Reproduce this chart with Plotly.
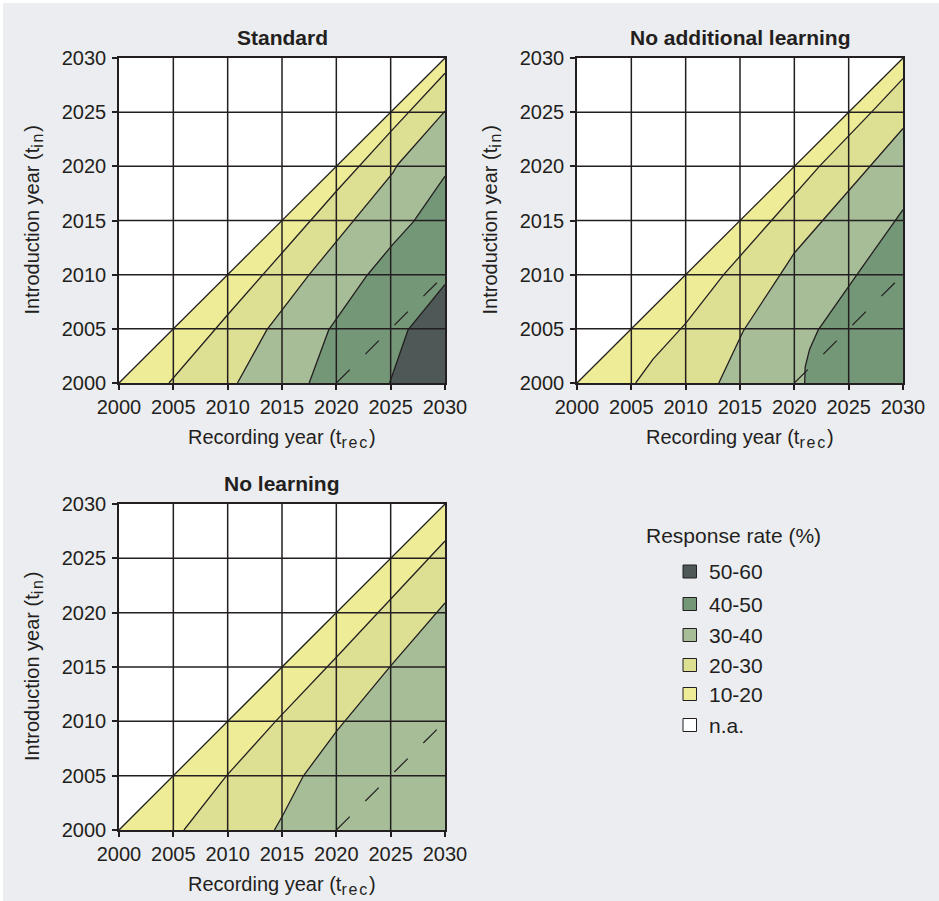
import plotly.graph_objects as go

# ---------------------------------------------------------------------------
# Data: contour boundaries between response-rate bands (x = recording year,
# y = introduction year). Each boundary runs from the bottom edge to the
# right edge of the panel.
# ---------------------------------------------------------------------------
TICKS = [2000, 2005, 2010, 2015, 2020, 2025, 2030]
YEAR_MIN, YEAR_MAX = 2000, 2030

BANDS = ["50-60", "40-50", "30-40", "20-30", "10-20", "n.a."]
BAND_COLORS = {
    "50-60": "#4d5857",
    "40-50": "#749777",
    "30-40": "#a6bd97",
    "20-30": "#dddf92",
    "10-20": "#eeec96",
    "n.a.": "#ffffff",
}

# Upper limit of the data: introduction year = recording year
DIAG_X = [2000, 2030]
DIAG_Y = [2000, 2030]

# Reference line: introduction year = recording year - 20
REF_X = [2020, 2030]
REF_Y = [2000, 2010]

# Standard
STD_20_X = [2004.6, 2010.0, 2015.0, 2020.0, 2025.0, 2030.0]
STD_20_Y = [2000.0, 2006.3, 2012.0, 2017.7, 2023.2, 2028.6]
STD_30_X = [2010.9, 2013.6, 2017.5, 2025.2, 2025.6, 2030.0]
STD_30_Y = [2000.0, 2004.9, 2010.0, 2019.4, 2020.1, 2025.1]
STD_40_X = [2017.5, 2019.3, 2022.8, 2025.2, 2027.1, 2030.0]
STD_40_Y = [2000.0, 2004.9, 2009.9, 2012.8, 2014.9, 2019.1]
STD_50_X = [2024.9, 2026.6, 2030.0]
STD_50_Y = [2000.0, 2004.9, 2009.1]

# No additional learning
NAL_20_X = [2005.4, 2007.0, 2010.0, 2013.5, 2017.9, 2022.3, 2027.1, 2030.0]
NAL_20_Y = [2000.0, 2002.2, 2005.5, 2010.0, 2015.0, 2020.0, 2025.0, 2028.1]
NAL_30_X = [2013.05, 2015.3, 2018.7, 2020.0, 2030.0]
NAL_30_Y = [2000.0, 2004.8, 2010.0, 2012.0, 2023.5]
NAL_40_X = [2020.95, 2021.0, 2021.4, 2022.2, 2025.65, 2030.0]
NAL_40_Y = [2000.0, 2001.5, 2003.1, 2004.9, 2009.85, 2016.0]

# No learning
NL_20_X = [2005.98, 2009.9, 2014.4, 2020.0, 2030.0]
NL_20_Y = [2000.0, 2005.0, 2010.0, 2015.9, 2026.6]
NL_30_X = [2014.3, 2015.1, 2016.96, 2020.1, 2025.0, 2030.0]
NL_30_Y = [2000.0, 2001.4, 2004.97, 2009.2, 2015.1, 2020.9]

PANEL_TITLES = ["Standard", "No additional learning", "No learning"]

# ---------------------------------------------------------------------------
# Styling
# ---------------------------------------------------------------------------
W, H = 939, 901
BG = "#ecedf0"
INK = "#231f20"
FONT = "Liberation Sans, Arial, Helvetica, sans-serif"
LABEL_SIZE = 20
SUB_STYLE = "font-size:16px;letter-spacing:1.8px"

X_TITLE = 'Recording year (t<sub><span style="%s">rec</span></sub>)' % SUB_STYLE
Y_TITLE = 'Introduction year (t<sub><span style="%s">in</span></sub>)' % SUB_STYLE


def fx(px):
    return px / W


def fy(px):
    return 1 - px / H


corner = ([YEAR_MAX], [YEAR_MIN])
panels = [
    dict(
        title=PANEL_TITLES[0],
        chains=[(DIAG_X, DIAG_Y), (STD_20_X, STD_20_Y), (STD_30_X, STD_30_Y),
                (STD_40_X, STD_40_Y), (STD_50_X, STD_50_Y), corner],
        fills=["10-20", "20-30", "30-40", "40-50", "50-60"],
        box=(119, 445, 58, 383),
    ),
    dict(
        title=PANEL_TITLES[1],
        chains=[(DIAG_X, DIAG_Y), (NAL_20_X, NAL_20_Y), (NAL_30_X, NAL_30_Y),
                (NAL_40_X, NAL_40_Y), corner],
        fills=["10-20", "20-30", "30-40", "40-50"],
        box=(577, 903, 58, 383),
    ),
    dict(
        title=PANEL_TITLES[2],
        chains=[(DIAG_X, DIAG_Y), (NL_20_X, NL_20_Y), (NL_30_X, NL_30_Y), corner],
        fills=["10-20", "20-30", "30-40"],
        box=(119, 445, 504, 830),
    ),
]

fig = go.Figure()
shapes = []
annotations = []
layout_axes = {}

for i, p in enumerate(panels):
    sfx = "" if i == 0 else str(i + 1)
    xref, yref = "x" + sfx, "y" + sfx
    chains = p["chains"]

    # filled bands between consecutive boundaries
    for k, band in enumerate(p["fills"]):
        ux, uy = chains[k]
        lx, ly = chains[k + 1]
        xs = list(ux) + list(reversed(lx)) + [ux[0]]
        ys = list(uy) + list(reversed(ly)) + [uy[0]]
        fig.add_trace(go.Scatter(
            x=xs, y=ys, xaxis=xref, yaxis=yref, mode="lines",
            line=dict(width=0), fill="toself", fillcolor=BAND_COLORS[band],
            hoverinfo="skip", showlegend=False,
        ))

    # boundary lines
    for bx, by in chains[:-1]:
        fig.add_trace(go.Scatter(
            x=bx, y=by, xaxis=xref, yaxis=yref, mode="lines",
            line=dict(color=INK, width=1.3), hoverinfo="skip", showlegend=False,
        ))

    # dashed reference line
    fig.add_trace(go.Scatter(
        x=REF_X, y=REF_Y, xaxis=xref, yaxis=yref, mode="lines",
        line=dict(color=INK, width=1.2, dash="19px,22px"),
        hoverinfo="skip", showlegend=False,
    ))

    # grid drawn over the bands
    for t in TICKS[1:-1]:
        shapes.append(dict(type="line", xref=xref, yref=yref, layer="above",
                           x0=t, x1=t, y0=YEAR_MIN, y1=YEAR_MAX,
                           line=dict(color=INK, width=1.5)))
        shapes.append(dict(type="line", xref=xref, yref=yref, layer="above",
                           x0=YEAR_MIN, x1=YEAR_MAX, y0=t, y1=t,
                           line=dict(color=INK, width=1.5)))

    x0, x1, y0, y1 = p["box"]
    common = dict(
        range=[YEAR_MIN, YEAR_MAX], tickvals=TICKS, ticks="outside",
        ticklen=5, tickwidth=1.5, tickcolor=INK, showgrid=False, zeroline=False,
        showline=True, mirror=True, linecolor=INK, linewidth=1.5,
        tickfont=dict(family=FONT, size=LABEL_SIZE, color=INK), fixedrange=True,
        automargin=False,
    )
    layout_axes["xaxis" + sfx] = dict(common, domain=[fx(x0), fx(x1)], anchor=yref)
    layout_axes["yaxis" + sfx] = dict(common, domain=[fy(y1), fy(y0)], anchor=xref,
                                      ticklabelstandoff=2)

    cx = (x0 + x1) / 2
    cy = (y0 + y1) / 2
    annotations.append(dict(
        text="<b>%s</b>" % p["title"], xref="paper", yref="paper",
        x=fx(cx), y=fy(y0 - 21), xanchor="center", yanchor="middle",
        showarrow=False, font=dict(family=FONT, size=21, color=INK),
    ))
    annotations.append(dict(
        text=X_TITLE, xref="paper", yref="paper",
        x=fx(cx), y=fy(y1 + 55), xanchor="center", yanchor="middle",
        showarrow=False, font=dict(family=FONT, size=LABEL_SIZE, color=INK),
    ))
    annotations.append(dict(
        text=Y_TITLE, xref="paper", yref="paper",
        x=fx(x0 - 86), y=fy(cy), xanchor="center", yanchor="middle",
        textangle=-90, showarrow=False,
        font=dict(family=FONT, size=LABEL_SIZE, color=INK),
    ))

# legend
annotations.append(dict(
    text="Response rate (%)", xref="paper", yref="paper", x=fx(733.5), y=fy(535),
    xanchor="center", yanchor="middle", showarrow=False,
    font=dict(family=FONT, size=21, color=INK),
))
row_y = [571.5, 604, 635, 665, 694, 725]
for band, ry in zip(BANDS, row_y):
    shapes.append(dict(type="rect", xref="paper", yref="paper",
                       x0=fx(683), x1=fx(696.5), y0=fy(ry + 6.5), y1=fy(ry - 6.5),
                       fillcolor=BAND_COLORS[band], line=dict(color=INK, width=1)))
    annotations.append(dict(
        text=band, xref="paper", yref="paper", x=fx(707), y=fy(ry),
        xanchor="left", yanchor="middle", showarrow=False,
        font=dict(family=FONT, size=21, color=INK),
    ))

# thin white frame on the top and left edges
shapes.append(dict(type="rect", xref="paper", yref="paper", x0=0, x1=fx(3),
                   y0=0, y1=1, fillcolor="white", line=dict(width=0), layer="below"))
shapes.append(dict(type="rect", xref="paper", yref="paper", x0=0, x1=1,
                   y0=fy(3), y1=1, fillcolor="white", line=dict(width=0), layer="below"))

fig.update_layout(
    width=W, height=H,
    margin=dict(l=0, r=0, t=0, b=0, pad=0, autoexpand=False),
    paper_bgcolor=BG, plot_bgcolor="white", showlegend=False,
    shapes=shapes, annotations=annotations, **layout_axes,
)

fig.write_html("out.html")
